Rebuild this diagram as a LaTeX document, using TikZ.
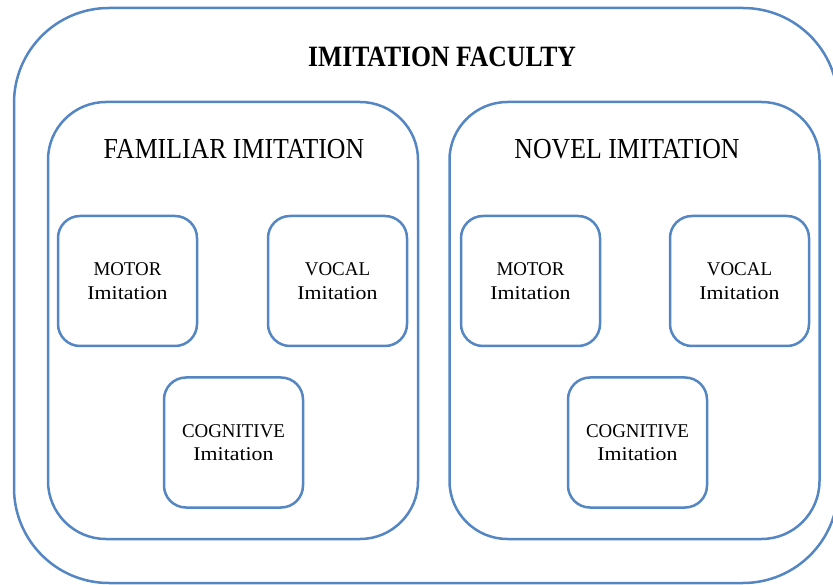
\documentclass[tikz,border=0pt]{standalone}
\usepackage{fontspec}
\setmainfont{Liberation Serif}
\newfontfamily\titlefont[FakeStretch=0.87]{Liberation Serif}
\newfontfamily\headfont[FakeStretch=0.89]{Liberation Serif}
\newfontfamily\capsfont[FakeStretch=0.97]{Liberation Serif}
\newfontfamily\lowfont[FakeStretch=1.12]{Liberation Serif}
\definecolor{boxblue}{RGB}{84,134,196}
\tikzset{
  frame/.style={draw=boxblue, line width=2.5pt, rectangle, inner sep=0pt},
  outerbox/.style={frame, rounded corners=95pt, minimum width=824pt, minimum height=575pt},
  groupbox/.style={frame, rounded corners=58pt, minimum width=370pt, minimum height=437pt},
  itembox/.style={frame, rounded corners=22pt, minimum width=139pt, minimum height=130pt,
    align=center, font=\fontsize{19.5}{23.5}\selectfont},
  headtext/.style={anchor=base, inner sep=0pt, font=\fontsize{29}{34}\selectfont\headfont},
}
\begin{document}
\begin{tikzpicture}[x=1pt,y=-1pt]
\useasboundingbox (0,0) rectangle (833,585);
\node[outerbox] (faculty) at (426,295.5) {};
\node[anchor=base, inner sep=0pt, font=\fontsize{29.5}{34}\selectfont\titlefont\bfseries] (title) at (442,67) {IMITATION FACULTY};
\node[groupbox] (familiar) at (233,320.5) {};
\node[groupbox] (novel) at (634.5,320.5) {};
\node[headtext] (famhead) at (234,159) {FAMILIAR IMITATION};
\node[headtext] (novhead) at (627,159) {NOVEL IMITATION};
\node[itembox] (fmotor) at (127.5,281) {{\capsfont MOTOR}\\{\lowfont Imitation}};
\node[itembox] (fvocal) at (337.5,281) {{\capsfont VOCAL}\\{\lowfont Imitation}};
\node[itembox] (fcog) at (233.5,442.5) {{\capsfont COGNITIVE}\\{\lowfont Imitation}};
\node[itembox] (nmotor) at (530.5,281) {{\capsfont MOTOR}\\{\lowfont Imitation}};
\node[itembox] (nvocal) at (739.5,281) {{\capsfont VOCAL}\\{\lowfont Imitation}};
\node[itembox] (ncog) at (637.5,442.5) {{\capsfont COGNITIVE}\\{\lowfont Imitation}};
\end{tikzpicture}
\end{document}
